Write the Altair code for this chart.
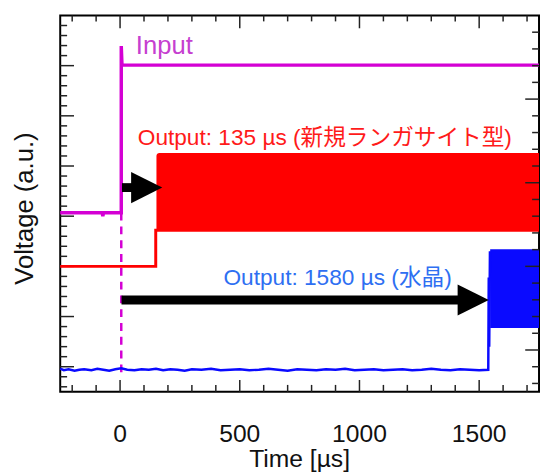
import altair as alt
import pandas as pd

FONT = "Liberation Sans, Arial, Noto Sans CJK JP, sans-serif"
W, H = 486, 382

# ---- data ----
input_t = [-250, -75, -72, -69, 5, 5, 8, 1750]
input_v = [3.07, 3.07, 3.00, 3.07, 3.07, 6.39, 6.01, 6.01]

red_t = [-250, 149, 149]
red_v = [2.00, 2.00, 2.75]
red_band_t = [152, 1750]
red_band_lo = [2.69, 2.69]
red_band_hi = [4.26, 4.26]

blue_t = [-250, -235, -215, -190, -170, -150, -120, -95, -70, -45,
          -20, 5, 30, 60, 90, 120, 150, 180, 210, 240,
          270, 300, 340, 380, 420, 460, 500, 540, 580, 620,
          660, 700, 740, 780, 820, 860, 900, 940, 980, 1020,
          1060, 1100, 1140, 1180, 1220, 1260, 1300, 1340, 1380, 1420,
          1460, 1500, 1538, 1540, 1542, 1545]
blue_v = [-0.04, -0.07, -0.05, -0.08, -0.06, -0.05, -0.07, -0.04, -0.06, -0.08,
          -0.05, -0.03, -0.06, -0.07, -0.05, -0.06, -0.04, -0.07, -0.05, -0.06,
          -0.08, -0.05, -0.06, -0.04, -0.07, -0.06, -0.05, -0.07, -0.06, -0.04,
          -0.06, -0.08, -0.05, -0.06, -0.07, -0.05, -0.06, -0.04, -0.07, -0.06,
          -0.05, -0.07, -0.06, -0.05, -0.07, -0.06, -0.04, -0.06, -0.07, -0.05,
          -0.06, -0.07, -0.06, 1.78, 0.40, 2.30]
blue_band_t = [1546, 1750]
blue_band_lo = [0.77, 0.77]
blue_band_hi = [2.34, 2.34]

dash_t = [5, 5]
dash_v = [3.07, -0.2]

arrow_start = [8, 6]
arrow_tip = [177, 1541]
arrow_y = [3.57, 1.33]

label_text = ["Input", "Output: 135 µs (新規ランガサイト型)", "Output: 1580 µs (水晶)"]
label_t = [66, 74, 432]
label_v = [6.24, 4.42, 1.63]
label_color = ["#c63fd0", "#ff1a1a", "#2e6ff2"]
label_size = [26, 23, 23]

x_major = [0, 500, 1000, 1500]
x_tick_labels = ["0", "500", "1000", "1500"]
x_minor = [-200, -100, 100, 200, 300, 400, 600, 700, 800, 900,
           1100, 1200, 1300, 1400, 1600, 1700]
y_major = [0, 1, 2, 3, 4, 5, 6]
y_minor = [-0.4, -0.2, 0.2, 0.4, 0.6, 0.8, 1.2, 1.4, 1.6, 1.8,
           2.2, 2.4, 2.6, 2.8, 3.2, 3.4, 3.6, 3.8, 4.2, 4.4,
           4.6, 4.8, 5.2, 5.4, 5.6, 5.8, 6.2, 6.4, 6.6, 6.8]
yr_major = [0, 1, 2, 3]
yr_minor = [-0.4, -0.2, 0.2, 0.4, 0.6, 0.8, 1.2, 1.4, 1.6, 1.8,
            2.2, 2.4, 2.6, 2.8, 3.2, 3.4, 3.6, 3.8]

x_title = "Time [µs]"
y_title = "Voltage (a.u.)"

# ---- scales ----
xs = alt.Scale(domain=[-250, 1750], nice=False, zero=False)
ys = alt.Scale(domain=[-0.5, 7], nice=False, zero=False)
ys_r = alt.Scale(domain=[-0.5, 4], nice=False, zero=False)

X = lambda: alt.X("t:Q", scale=xs, axis=None)
Y = lambda: alt.Y("v:Q", scale=ys, axis=None)

TICK = "#222222"
TXT = "#111111"

def xticks(vals, length, top):
    df = pd.DataFrame({"t": vals})
    y0 = 0 if top else H
    y1 = length if top else H - length
    return alt.Chart(df).mark_rule(color=TICK, strokeWidth=1.5).encode(
        x=X(), y=alt.value(y0), y2=alt.value(y1))

def yticks(vals, length, right, scale):
    df = pd.DataFrame({"v": vals})
    x0 = W if right else 0
    x1 = W - length if right else length
    return alt.Chart(df).mark_rule(color=TICK, strokeWidth=1.5).encode(
        y=alt.Y("v:Q", scale=scale, axis=None), x=alt.value(x0), x2=alt.value(x1))

tick_labels = alt.Chart(pd.DataFrame({"t": x_major, "lab": x_tick_labels})).mark_text(
    font=FONT, fontSize=25, color=TXT, align="center", baseline="alphabetic").encode(
    x=X(), y=alt.value(H + 51), text="lab:N")

xtitle = alt.Chart(pd.DataFrame({"lab": [x_title]})).mark_text(
    font=FONT, fontSize=25, color=TXT, align="center", baseline="alphabetic").encode(
    x=alt.value(W / 2), y=alt.value(H + 76), text="lab:N")

ytitle = alt.Chart(pd.DataFrame({"lab": [y_title]})).mark_text(
    font=FONT, fontSize=26, color=TXT, align="center", baseline="middle", angle=270).encode(
    x=alt.value(-36), y=alt.value(H / 2 + 5), text="lab:N")

dash = alt.Chart(pd.DataFrame({"t": dash_t, "v": dash_v})).mark_line(
    color="#d400d4", strokeWidth=2.5, strokeDash=[8, 6]).encode(x=X(), y=Y())

red_band = alt.Chart(pd.DataFrame({"t": red_band_t[:1], "t2": red_band_t[1:],
                                   "lo": red_band_lo[:1], "hi": red_band_hi[:1]})).mark_rect(
    color="#ff0000", cornerRadiusTopLeft=3).encode(
    x=alt.X("t:Q", scale=xs, axis=None), x2="t2:Q",
    y=alt.Y("lo:Q", scale=ys, axis=None), y2="hi:Q")

red_line = alt.Chart(pd.DataFrame({"t": red_t, "v": red_v})).mark_line(
    color="#ff0000", strokeWidth=3).encode(x=X(), y=Y())

blue_band = alt.Chart(pd.DataFrame({"t": blue_band_t[:1], "t2": blue_band_t[1:],
                                    "lo": blue_band_lo[:1], "hi": blue_band_hi[:1]})).mark_rect(
    color="#0a0aff").encode(
    x=alt.X("t:Q", scale=xs, axis=None), x2="t2:Q",
    y=alt.Y("lo:Q", scale=ys, axis=None), y2="hi:Q")

blue_line = alt.Chart(pd.DataFrame({"t": blue_t, "v": blue_v})).mark_line(
    color="#0a0aff", strokeWidth=2.5).encode(x=X(), y=Y())

input_line = alt.Chart(pd.DataFrame({"t": input_t, "v": input_v})).mark_line(
    color="#d400d4", strokeWidth=3.5).encode(x=X(), y=Y())

arrows = pd.DataFrame({"t": arrow_start, "t2": arrow_tip, "v": arrow_y})
shafts = alt.Chart(arrows).mark_rule(color="black", strokeWidth=9, x2Offset=-20).encode(
    x=alt.X("t:Q", scale=xs, axis=None), x2="t2:Q", y=Y())
heads = alt.Chart(arrows).mark_point(
    shape="M1,0L-1,-1L-1,1Z", size=1000, filled=True, color="black", opacity=1,
    xOffset=-16).encode(x=alt.X("t2:Q", scale=xs, axis=None), y=Y())

labels = alt.Chart(pd.DataFrame({"t": label_t, "v": label_v, "txt": label_text,
                                 "c": label_color, "s": label_size})).mark_text(
    align="left", baseline="alphabetic", font=FONT).encode(
    x=X(), y=Y(), text="txt:N",
    color=alt.Color("c:N", scale=None), size=alt.Size("s:Q", scale=None))

main = alt.layer(
    xticks(x_major, 12, False), xticks(x_minor, 7, False),
    xticks(x_major, 13, True), xticks(x_minor, 6, True),
    yticks(y_major, 14, False, ys), yticks(y_minor, 7, False, ys),
    dash, red_band, red_line, blue_band, blue_line, input_line,
    shafts, heads, labels, tick_labels, xtitle, ytitle,
)

right_ticks = alt.layer(
    yticks(yr_major, 14, True, ys_r), yticks(yr_minor, 7, True, ys_r))

chart = alt.layer(main, right_ticks).resolve_scale(y="independent").properties(
    width=W, height=H,
    autosize=alt.AutoSizeParams(type="none"),
    padding={"left": 53, "top": 4, "right": 1, "bottom": 90},
).configure(background="white").configure_view(stroke="black", strokeWidth=2)

chart.save("out.html", embed_options={"renderer": "svg", "actions": False})
